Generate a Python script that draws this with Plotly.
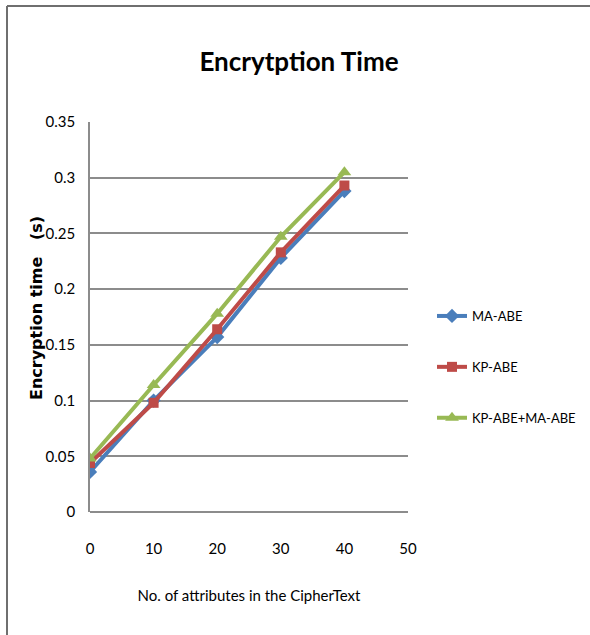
import plotly.graph_objects as go

# Number of attributes in the ciphertext
attributes = [0, 10, 20, 30, 40]

# Encryption time in seconds for each scheme
ma_abe = [0.036, 0.100, 0.157, 0.228, 0.288]
kp_abe = [0.044, 0.098, 0.164, 0.233, 0.293]
kp_ma_abe = [0.048, 0.114, 0.178, 0.247, 0.305]

series_names = ["MA-ABE", "KP-ABE", "KP-ABE+MA-ABE"]
x_ticks = [0, 10, 20, 30, 40, 50]
y_ticks = [0, 0.05, 0.1, 0.15, 0.2, 0.25, 0.3, 0.35]
y_tick_text = ["0", "0.05", "0.1", "0.15", "0.2", "0.25", "0.3", "0.35"]

W, H = 590, 635
L, R, T, B = 90, 182, 122, 123
PW, PH = W - L - R, H - T - B


def px_x(px):
    return (px - L) / PW


def px_y(py):
    return (H - B - py) / PH


FONT = "Lato, sans-serif"

styles = [
    dict(color="#4a7ebb", symbol="diamond", size=11),
    dict(color="#be4b48", symbol="square", size=10),
    dict(color="#98b954", symbol="triangle-up", size=12),
]

fig = go.Figure()
for name, values, st in zip(series_names, [ma_abe, kp_abe, kp_ma_abe], styles):
    fig.add_trace(go.Scatter(
        x=attributes, y=values, name=name, mode="lines+markers",
        legendgroup=name,
        line=dict(color=st["color"], width=4),
        marker=dict(color=st["color"], symbol=st["symbol"], size=st["size"]),
    ))

fig.update_layout(
    width=W, height=H,
    margin=dict(l=L, r=R, t=T, b=B, autoexpand=False),
    paper_bgcolor="white", plot_bgcolor="white",
    font=dict(family=FONT, size=15, color="black"),
    title=dict(text="<b>Encrytption Time</b>", x=299 / W, xanchor="center",
               y=1 - 62 / H, yanchor="middle",
               font=dict(family=FONT, size=26, color="black")),
    showlegend=True,
    legend=dict(x=px_x(432), xanchor="left", y=px_y(301), yanchor="top",
                font=dict(family=FONT, size=13), tracegroupgap=31,
                bgcolor="rgba(0,0,0,0)"),
    xaxis=dict(range=[0, 50], tickvals=x_ticks, showgrid=False, zeroline=False,
               showline=False, ticks="", ticklabelstandoff=26,
               tickfont=dict(family=FONT, size=15),
               title=dict(text="No. of attributes in the CipherText",
                          font=dict(family=FONT, size=15), standoff=34)),
    yaxis=dict(range=[0, 0.35], tickvals=y_ticks, ticktext=y_tick_text,
               showgrid=True, gridcolor="#8c8c8c", gridwidth=1.5,
               zeroline=True, zerolinecolor="#8c8c8c", zerolinewidth=1.5,
               showline=True, linecolor="#8c8c8c", linewidth=1.5,
               ticks="", ticklabelstandoff=10,
               tickfont=dict(family=FONT, size=15)),
    annotations=[dict(
        text="<b>Encryption time   (s)</b>", xref="paper", yref="paper",
        x=px_x(36), y=px_y(308), xanchor="center", yanchor="middle",
        textangle=-90, showarrow=False,
        font=dict(family="DejaVu Sans, sans-serif", size=16, color="black"),
    )],
    shapes=[
        dict(type="line", xref="paper", yref="paper",
             x0=px_x(7), x1=px_x(W), y0=px_y(6), y1=px_y(6),
             line=dict(color="#6f6f6f", width=2)),
        dict(type="line", xref="paper", yref="paper",
             x0=px_x(7), x1=px_x(7), y0=px_y(6), y1=px_y(H),
             line=dict(color="#6f6f6f", width=2)),
    ],
)

fig.write_html("out.html")
